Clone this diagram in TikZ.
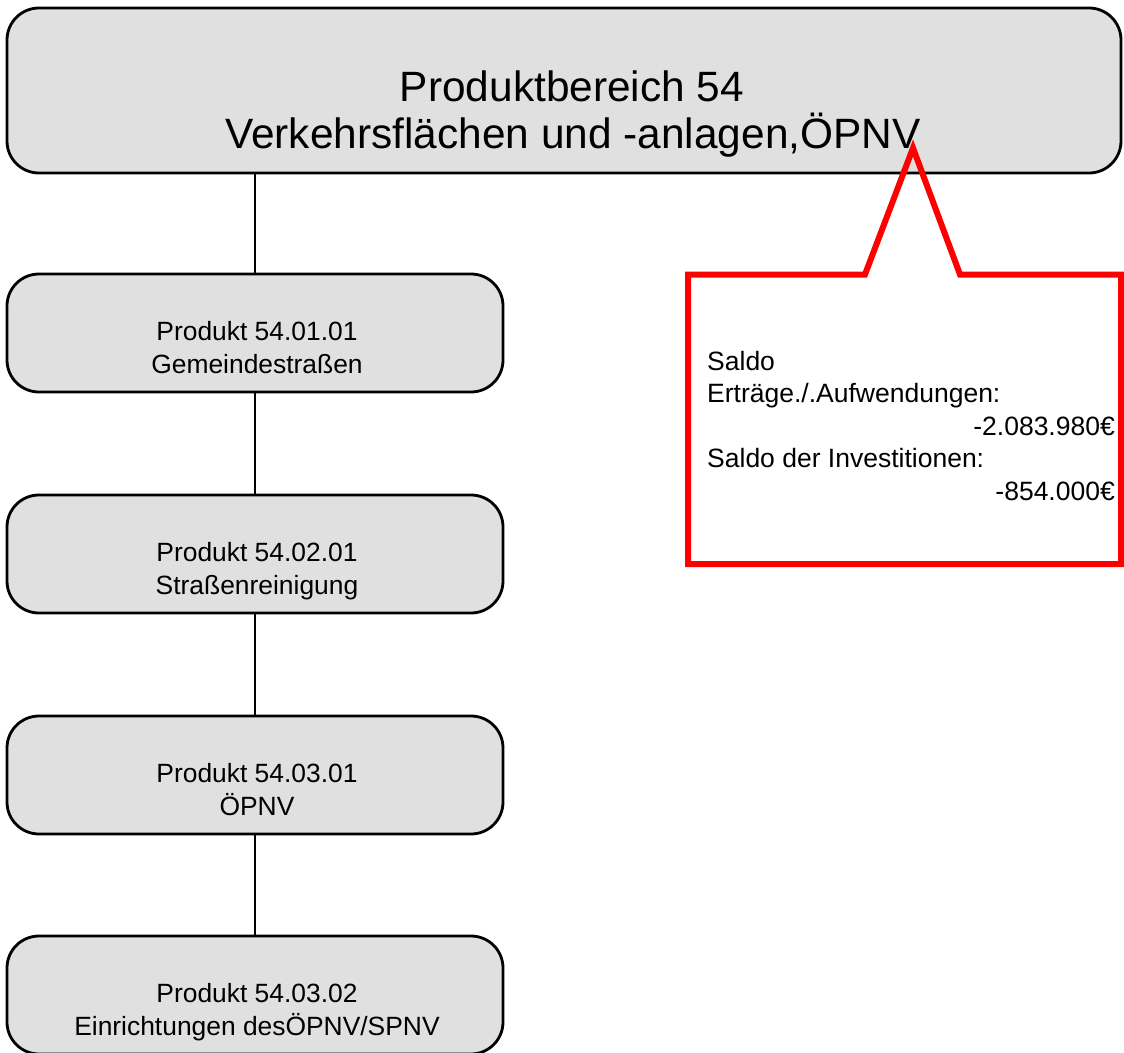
\documentclass[tikz,border=0pt]{standalone}
\usepackage{fontspec}
\setmainfont{Liberation Sans}
\definecolor{boxgray}{HTML}{E0E0E0}
\begin{document}
\begin{tikzpicture}[x=1pt,y=-1pt,
  pbox/.style={draw=black, line width=2.8pt, fill=boxgray, rounded corners=32pt,
    minimum width=496pt, minimum height=118pt, inner sep=0pt},
  tbox/.style={draw=black, line width=2.8pt, fill=boxgray, rounded corners=32pt,
    minimum width=1114pt, minimum height=165pt, inner sep=0pt},
  ptxt/.style={anchor=base, inner sep=0pt, font=\fontsize{26.4}{32}\selectfont},
  ttxt/.style={anchor=base, inner sep=0pt, font=\fontsize{42.4}{48}\selectfont},
  ctxt/.style={inner sep=0pt, font=\fontsize{26.5}{32}\selectfont},
  link/.style={line width=2.8pt, black},
  callout/.style={draw=red, line width=6pt, line join=miter}]
\useasboundingbox (0,0) rectangle (1124,1052);

% header box
\node[tbox] (top) at (564,90.5) {};
\node[ttxt] (t1) at (572,101) {Produktbereich 54};
\node[ttxt] (t2) at (573,148) {Verkehrsflächen und -anlagen,ÖPNV};

% product boxes
\node[pbox] (p1) at (255,333) {};
\node[ptxt] (p1a) at (257,340) {Produkt 54.01.01};
\node[ptxt] (p1b) at (257,373) {Gemeindestraßen};

\node[pbox] (p2) at (255,554) {};
\node[ptxt] (p2a) at (257,561) {Produkt 54.02.01};
\node[ptxt] (p2b) at (257,594) {Straßenreinigung};

\node[pbox] (p3) at (255,775) {};
\node[ptxt] (p3a) at (257,782) {Produkt 54.03.01};
\node[ptxt] (p3b) at (257,815) {ÖPNV};

\node[pbox] (p4) at (255,995) {};
\node[ptxt] (p4a) at (257,1002) {Produkt 54.03.02};
\node[ptxt] (p4b) at (257,1035) {Einrichtungen desÖPNV/SPNV};

% tree connectors
\draw[link] (top.south -| p1.north) -- (p1.north);
\draw[link] (p1.south) -- (p2.north);
\draw[link] (p2.south) -- (p3.north);
\draw[link] (p3.south) -- (p4.north);

% callout with pointer
\coordinate (tip) at (913,148);
\coordinate (cl) at (688,274.5);
\coordinate (cr) at (1121,564);
\fill[white] (cl) rectangle (cr);
\draw[callout] (865,274.5) -- (tip) -- (960,274.5) -- (cr |- cl) -- (cr) -- (cl |- cr) -- (cl) -- cycle;

\node[ctxt, anchor=base west] (c1) at (707,370) {Saldo};
\node[ctxt, anchor=base west] (c2) at (707,402.5) {Erträge./.Aufwendungen:};
\node[ctxt, anchor=base east] (c3) at (1115,435) {-2.083.980€};
\node[ctxt, anchor=base west] (c4) at (707,467.5) {Saldo der Investitionen:};
\node[ctxt, anchor=base east] (c5) at (1115,500) {-854.000€};
\end{tikzpicture}
\end{document}
